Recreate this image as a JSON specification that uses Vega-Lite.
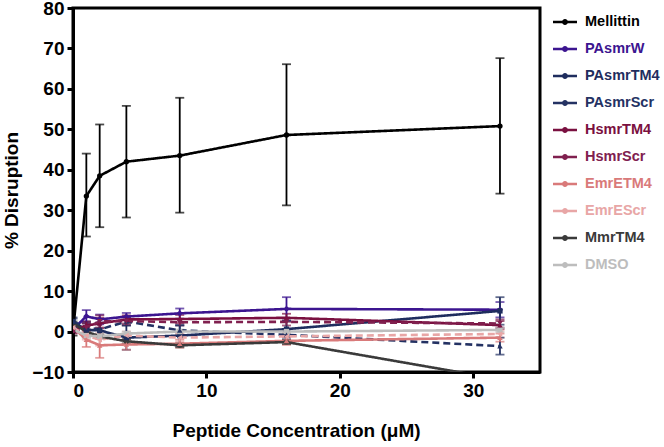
{
  "$schema": "https://vega.github.io/schema/vega-lite/v6.json",
  "width": 467,
  "height": 364,
  "autosize": "none",
  "padding": {"left": 73, "top": 8, "right": 124, "bottom": 75},
  "config": {
    "font": "Liberation Sans",
    "view": {"stroke": "black", "strokeWidth": 3},
    "axis": {"grid": false, "domainColor": "black", "domainWidth": 3, "tickColor": "black", "tickWidth": 3, "tickSize": 6, "labelFont": "Liberation Sans", "labelFontWeight": "bold", "labelFontSize": 19, "labelColor": "black", "titleFont": "Liberation Sans", "titleFontWeight": "bold", "titleFontSize": 19, "titleColor": "black"}
  },
  "data": {"values": [
    {"series": "Mellittin", "x": 0, "y": 0, "lo": -1, "hi": 1},
    {"series": "Mellittin", "x": 1, "y": 33.5, "lo": 23.5, "hi": 44},
    {"series": "Mellittin", "x": 2, "y": 38.5, "lo": 25.8, "hi": 51.2},
    {"series": "Mellittin", "x": 4, "y": 42, "lo": 28.2, "hi": 55.8},
    {"series": "Mellittin", "x": 8, "y": 43.5, "lo": 29.4, "hi": 57.8},
    {"series": "Mellittin", "x": 16, "y": 48.6, "lo": 31.2, "hi": 66.1},
    {"series": "Mellittin", "x": 32, "y": 50.8, "lo": 34.1, "hi": 67.6},
    {"series": "PAsmrW", "x": 0, "y": 0.5, "lo": 0, "hi": 1},
    {"series": "PAsmrW", "x": 1, "y": 3.8, "lo": 2.2, "hi": 5.3},
    {"series": "PAsmrW", "x": 2, "y": 3.0, "lo": 1.8, "hi": 4.2},
    {"series": "PAsmrW", "x": 4, "y": 3.7, "lo": 2.8, "hi": 4.6},
    {"series": "PAsmrW", "x": 8, "y": 4.5, "lo": 3.2, "hi": 5.7},
    {"series": "PAsmrW", "x": 16, "y": 5.6, "lo": 2.7, "hi": 8.5},
    {"series": "PAsmrW", "x": 32, "y": 5.4, "lo": 3.5, "hi": 7.3},
    {"series": "PAsmrTM4", "x": 0, "y": 2.5, "lo": 1.5, "hi": 3.5},
    {"series": "PAsmrTM4", "x": 1, "y": 0.4, "lo": -1.2, "hi": 2},
    {"series": "PAsmrTM4", "x": 2, "y": 0.3, "lo": -1.5, "hi": 2.2},
    {"series": "PAsmrTM4", "x": 4, "y": -1.5, "lo": -4.5, "hi": 1.5},
    {"series": "PAsmrTM4", "x": 8, "y": -1.0, "lo": -3.6, "hi": 1.6},
    {"series": "PAsmrTM4", "x": 16, "y": 0.6, "lo": -1.5, "hi": 2.7},
    {"series": "PAsmrTM4", "x": 32, "y": 5.1, "lo": 1.7, "hi": 8.5},
    {"series": "PAsmrScr", "x": 0, "y": 2.5, "lo": 1.8, "hi": 3.2},
    {"series": "PAsmrScr", "x": 1, "y": 1.0, "lo": -0.5, "hi": 2.5},
    {"series": "PAsmrScr", "x": 2, "y": 0.5, "lo": -1.2, "hi": 2.2},
    {"series": "PAsmrScr", "x": 4, "y": 2.5, "lo": 1.5, "hi": 3.5},
    {"series": "PAsmrScr", "x": 8, "y": 0.3, "lo": -0.9, "hi": 1.5},
    {"series": "PAsmrScr", "x": 16, "y": -0.8, "lo": -2.0, "hi": 0.4},
    {"series": "PAsmrScr", "x": 32, "y": -3.6, "lo": -5.7, "hi": -1.5},
    {"series": "HsmrTM4", "x": 0, "y": 0.3, "lo": -0.3, "hi": 0.9},
    {"series": "HsmrTM4", "x": 1, "y": 1.5, "lo": 0.5, "hi": 2.5},
    {"series": "HsmrTM4", "x": 2, "y": 2.0, "lo": 0.8, "hi": 3.4},
    {"series": "HsmrTM4", "x": 4, "y": 3.0, "lo": 2.0, "hi": 4.0},
    {"series": "HsmrTM4", "x": 8, "y": 3.1, "lo": 2.1, "hi": 4.1},
    {"series": "HsmrTM4", "x": 16, "y": 3.4, "lo": 2.4, "hi": 4.4},
    {"series": "HsmrTM4", "x": 32, "y": 1.6, "lo": 0.6, "hi": 2.6},
    {"series": "HsmrScr", "x": 0, "y": 0, "lo": -0.5, "hi": 0.5},
    {"series": "HsmrScr", "x": 1, "y": 1.0, "lo": 0, "hi": 2},
    {"series": "HsmrScr", "x": 2, "y": 2.5, "lo": 1.0, "hi": 4.0},
    {"series": "HsmrScr", "x": 4, "y": 2.6, "lo": 1.6, "hi": 3.6},
    {"series": "HsmrScr", "x": 8, "y": 2.3, "lo": 1.5, "hi": 3.1},
    {"series": "HsmrScr", "x": 16, "y": 2.4, "lo": 1.5, "hi": 3.3},
    {"series": "HsmrScr", "x": 32, "y": 2.0, "lo": 1.0, "hi": 3.0},
    {"series": "EmrETM4", "x": 0, "y": 1.0, "lo": 0.3, "hi": 1.7},
    {"series": "EmrETM4", "x": 1, "y": -2.0, "lo": -3.8, "hi": -0.2},
    {"series": "EmrETM4", "x": 2, "y": -3.4, "lo": -6.5, "hi": -0.5},
    {"series": "EmrETM4", "x": 4, "y": -3.2, "lo": -4.5, "hi": -1.9},
    {"series": "EmrETM4", "x": 8, "y": -3.0, "lo": -4.0, "hi": -2.0},
    {"series": "EmrETM4", "x": 16, "y": -2.3, "lo": -3.3, "hi": -1.3},
    {"series": "EmrETM4", "x": 32, "y": -1.5, "lo": -2.5, "hi": -0.5},
    {"series": "EmrEScr", "x": 0, "y": 1.0, "lo": 0.4, "hi": 1.6},
    {"series": "EmrEScr", "x": 1, "y": -1.0, "lo": -2.0, "hi": 0},
    {"series": "EmrEScr", "x": 2, "y": -2.0, "lo": -3.5, "hi": -0.5},
    {"series": "EmrEScr", "x": 4, "y": -1.0, "lo": -2.0, "hi": 0},
    {"series": "EmrEScr", "x": 8, "y": -1.5, "lo": -2.5, "hi": -0.5},
    {"series": "EmrEScr", "x": 16, "y": -1.2, "lo": -2.2, "hi": -0.2},
    {"series": "EmrEScr", "x": 32, "y": -0.6, "lo": -1.5, "hi": 0.3},
    {"series": "MmrTM4", "x": 0, "y": 2.0, "lo": 1.5, "hi": 2.5},
    {"series": "MmrTM4", "x": 1, "y": 0, "lo": -0.5, "hi": 0.5},
    {"series": "MmrTM4", "x": 2, "y": -1.2, "lo": -1.7, "hi": -0.7},
    {"series": "MmrTM4", "x": 4, "y": -2.4, "lo": -2.9, "hi": -1.9},
    {"series": "MmrTM4", "x": 8, "y": -3.4, "lo": -3.9, "hi": -2.9},
    {"series": "MmrTM4", "x": 16, "y": -2.6, "lo": -3.1, "hi": -2.1},
    {"series": "MmrTM4", "x": 32, "y": -11.8, "lo": -12.3, "hi": -11.3},
    {"series": "DMSO", "x": 0, "y": 0.5, "lo": 0, "hi": 1},
    {"series": "DMSO", "x": 1, "y": -1.0, "lo": -1.6, "hi": -0.4},
    {"series": "DMSO", "x": 2, "y": -1.2, "lo": -1.8, "hi": -0.6},
    {"series": "DMSO", "x": 4, "y": -0.5, "lo": -1.0, "hi": 0},
    {"series": "DMSO", "x": 8, "y": 0, "lo": -0.5, "hi": 0.5},
    {"series": "DMSO", "x": 16, "y": 0, "lo": -0.5, "hi": 0.5},
    {"series": "DMSO", "x": 32, "y": 0.4, "lo": -0.1, "hi": 0.9}
  ]},
  "encoding": {
    "x": {"field": "x", "type": "quantitative", "scale": {"domain": [0, 35], "nice": false}, "axis": {"values": [0, 10, 20, 30], "title": "Peptide Concentration (μM)", "titlePadding": 21, "labelPadding": 3, "titleX": 223}},
    "color": {
      "field": "series", "type": "nominal",
      "scale": {
        "domain": ["Mellittin", "PAsmrW", "PAsmrTM4", "PAsmrScr", "HsmrTM4", "HsmrScr", "EmrETM4", "EmrEScr", "MmrTM4", "DMSO"],
        "range": ["#000000", "#3c1590", "#1f2d5e", "#243263", "#7a1040", "#80204f", "#d97a7a", "#e8a6a6", "#3a3a3a", "#bdbdbd"]
      },
      "legend": {
        "title": null,
        "orient": "none",
        "legendX": 480,
        "legendY": 2,
        "symbolType": "M-1,-0.11L1,-0.11L1,0.11L-1,0.11Z M-0.25,0A0.25,0.25,0,1,1,0.25,0A0.25,0.25,0,1,1,-0.25,0Z",
        "symbolSize": 576,
        "symbolStrokeWidth": 0,
        "labelFont": "Liberation Sans",
        "labelFontWeight": "bold",
        "labelFontSize": 14.5,
        "labelOffset": 8,
        "rowPadding": 8,
        "encode": {
          "symbols": {"update": {
            "fill": {"scale": "color", "field": "value"},
            "stroke": {"value": "transparent"},
            "strokeDash": {"value": [1, 0]},
            "opacity": {"value": 1}}},
          "labels": {"update": {"fill": {"scale": "color", "field": "value"}}}
        }
      }
    }
  },
  "layer": [
    {
      "mark": {"type": "rule", "strokeDash": [2, 3], "strokeWidth": 1.5, "color": "black"},
      "encoding": {"y": {"datum": 0}, "color": {"value": "black"}}
    },
    {
      "mark": {"type": "errorbar", "clip": true, "ticks": {"size": 9, "thickness": 1.8}, "rule": {"strokeWidth": 1.8}},
      "encoding": {
        "y": {"field": "lo", "type": "quantitative", "scale": {"domain": [-10, 80], "nice": false}, "title": "% Disruption"},
        "y2": {"field": "hi"}
      }
    },
    {
      "mark": {"type": "line", "clip": true, "strokeWidth": 2.6},
      "encoding": {
        "y": {"field": "y", "type": "quantitative", "axis": {"values": [-10, 0, 10, 20, 30, 40, 50, 60, 70, 80], "title": "% Disruption", "titlePadding": 10, "labelPadding": 3}},
        "strokeDash": {"field": "series", "type": "nominal", "legend": null, "scale": {
          "domain": ["Mellittin", "PAsmrW", "PAsmrTM4", "PAsmrScr", "HsmrTM4", "HsmrScr", "EmrETM4", "EmrEScr", "MmrTM4", "DMSO"],
          "range": [[1, 0], [1, 0], [1, 0], [7, 4], [1, 0], [7, 4], [1, 0], [7, 4], [1, 0], [1, 0]]}}
      }
    },
    {
      "transform": [{"filter": {"field": "series", "oneOf": ["Mellittin", "MmrTM4"]}}],
      "mark": {"type": "point", "shape": "circle", "clip": true, "filled": true, "size": 28, "opacity": 1},
      "encoding": {"y": {"field": "y", "type": "quantitative"}}
    },
    {
      "transform": [{"filter": {"field": "series", "oneOf": ["PAsmrW"]}}],
      "mark": {"type": "point", "shape": "diamond", "clip": true, "filled": true, "size": 40, "opacity": 1},
      "encoding": {"y": {"field": "y", "type": "quantitative"}}
    },
    {
      "transform": [{"filter": {"field": "series", "oneOf": ["PAsmrTM4", "DMSO"]}}],
      "mark": {"type": "point", "shape": "square", "clip": true, "filled": true, "size": 28, "opacity": 1},
      "encoding": {"y": {"field": "y", "type": "quantitative"}}
    },
    {
      "transform": [{"filter": {"field": "series", "oneOf": ["PAsmrScr", "HsmrTM4", "EmrETM4"]}}],
      "mark": {"type": "point", "shape": "triangle-up", "clip": true, "filled": true, "size": 30, "opacity": 1},
      "encoding": {"y": {"field": "y", "type": "quantitative"}}
    },
    {
      "transform": [{"filter": {"field": "series", "oneOf": ["HsmrScr"]}}],
      "mark": {"type": "point", "shape": "triangle-down", "clip": true, "filled": true, "size": 30, "opacity": 1},
      "encoding": {"y": {"field": "y", "type": "quantitative"}}
    },
    {
      "transform": [{"filter": {"field": "series", "oneOf": ["EmrEScr"]}}],
      "mark": {"type": "point", "shape": "triangle-left", "clip": true, "filled": true, "size": 30, "opacity": 1},
      "encoding": {"y": {"field": "y", "type": "quantitative"}}
    }
  ]
}
